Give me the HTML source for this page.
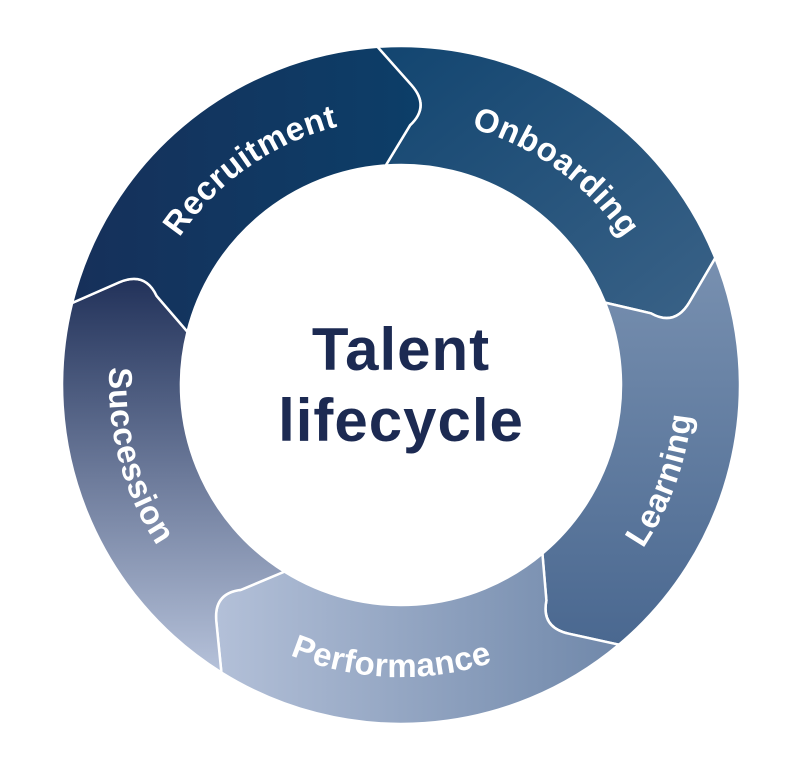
<!DOCTYPE html>
<html><head><meta charset="utf-8"><style>
html,body{margin:0;padding:0;background:#fff;width:800px;height:769px;overflow:hidden}
text{font-family:"Liberation Sans",sans-serif;font-weight:bold}
</style></head><body>
<svg id="s" width="800" height="769" viewBox="0 0 800 769" xmlns="http://www.w3.org/2000/svg">
<defs>
<linearGradient id="g0" x1="0" y1="0" x2="1" y2="0"><stop offset="0" stop-color="#16305a"/><stop offset="1" stop-color="#0c3e68"/></linearGradient>
<linearGradient id="g1" x1="0" y1="0" x2="1" y2="1"><stop offset="0" stop-color="#124570"/><stop offset="1" stop-color="#3a6287"/></linearGradient>
<linearGradient id="g2" x1="0" y1="1" x2="0" y2="0"><stop offset="0" stop-color="#4a6890"/><stop offset="1" stop-color="#7890b0"/></linearGradient>
<linearGradient id="g3" x1="0" y1="0" x2="1" y2="0"><stop offset="0" stop-color="#b3c0d8"/><stop offset="1" stop-color="#7088aa"/></linearGradient>
<linearGradient id="g4" x1="0" y1="0" x2="0" y2="1"><stop offset="0" stop-color="#22325a"/><stop offset="1" stop-color="#b6c2da"/></linearGradient>
<path id="t0" d=""/><path id="t1" d=""/><path id="t2" d=""/><path id="t3" d=""/><path id="t4" d=""/>
</defs>
<g id="segs"></g>
<text x="401" y="370" font-size="60" fill="#1c2a52" text-anchor="middle" letter-spacing="1">Talent</text>
<text x="401" y="441" font-size="60" fill="#1c2a52" text-anchor="middle" letter-spacing="1">lifecycle</text>
<g font-size="33" fill="#fff" letter-spacing="0.5">
<text><textPath href="#t0" startOffset="50%" text-anchor="middle">Recruitment</textPath></text>
<text><textPath href="#t1" startOffset="50%" text-anchor="middle">Onboarding</textPath></text>
<text><textPath href="#t2" startOffset="50%" text-anchor="middle">Learning</textPath></text>
<text><textPath href="#t3" startOffset="50%" text-anchor="middle">Performance</textPath></text>
<text><textPath href="#t4" startOffset="50%" text-anchor="middle">Succession</textPath></text>
</g>
</svg>
<script>
var cx=401,cy=385,R=339,r=220,m=280,tip=10;
function P(a,rad){a=a*Math.PI/180;return [(cx+rad*Math.sin(a)).toFixed(1),(cy-rad*Math.cos(a)).toFixed(1)];}
var b=[-4,68,140,212,284,356];
var g=document.getElementById('segs'),h='';
for(var i=0;i<5;i++){
 var s=b[i],e=b[i+1];
 var o1=P(s,R),o2=P(e,R),et=P(e+tip,m),i2=P(e,r),i1=P(s,r);
 var c1=P(e+tip-4,m+20),c2=P(e+tip-4,m-20);
 var d1=P(s+tip-4,m-20),d2=P(s+tip-4,m+20),st=P(s+tip,m);
 var d='M'+o1+' A'+R+' '+R+' 0 0 1 '+o2+' L'+c1+' Q'+et+' '+c2+' L'+i2+' A'+r+' '+r+' 0 0 0 '+i1+' L'+d1+' Q'+st+' '+d2+' Z';
 h+='<path d="'+d+'" fill="url(#g'+((i+1)%5)+')" stroke="#fff" stroke-width="2.5" stroke-linejoin="round"/>';
}
g.innerHTML=h;
function arc(id,c,rad,cw){
 var a1=c-50,a2=c+50;
 var p1=P(cw?a1:a2,rad),p2=P(cw?a2:a1,rad);
 document.getElementById(id).setAttribute('d','M'+p1+' A'+rad+' '+rad+' 0 0 '+(cw?1:0)+' '+p2);
}
arc('t0',-35,266,true);arc('t1',36,266,true);arc('t2',110,292,false);arc('t3',182,292,false);arc('t4',255,292,false);
</script>
</body></html>
